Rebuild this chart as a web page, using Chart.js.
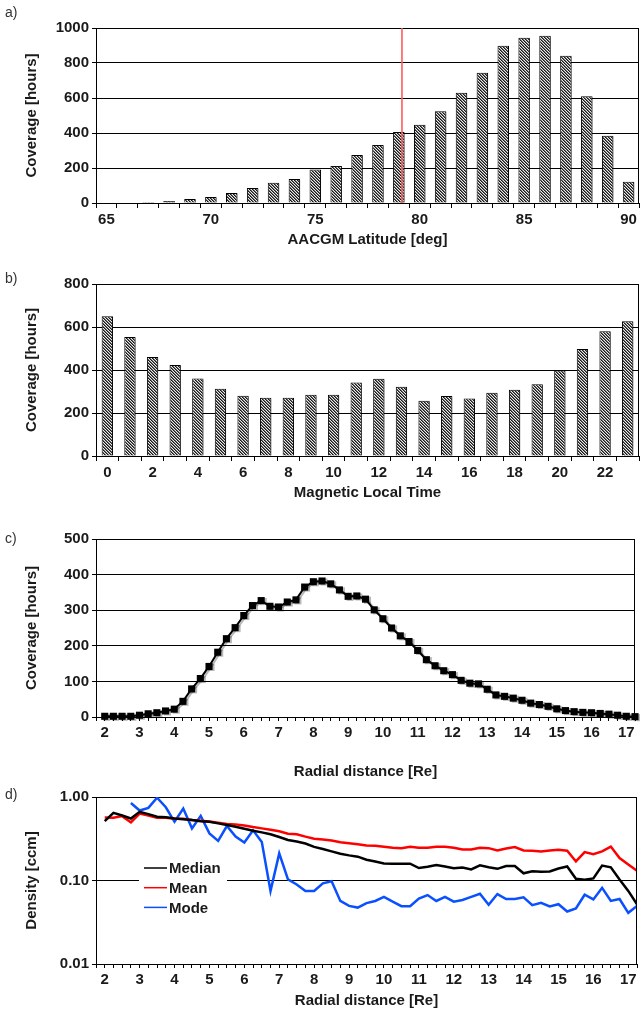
<!DOCTYPE html>
<html>
<head>
<meta charset="utf-8">
<script src="https://cdn.jsdelivr.net/npm/chart.js@4.4.0/dist/chart.umd.min.js"></script>
<style>
  html, body { margin: 0; padding: 0; background: #fff; }
  #wrap { position: relative; width: 640px; height: 1013px; overflow: hidden; background: #fff; }
  canvas { position: absolute; left: 0; }
  .plab { position: absolute; left: 5px; font: 14px "Liberation Sans", Arial, sans-serif; color: #333; line-height: 16px; z-index: 2; }
</style>
</head>
<body>
<div id="wrap">
  <canvas id="ca" width="640" height="252" style="top:0px"></canvas>
  <canvas id="cb" width="640" height="245" style="top:260px"></canvas>
  <canvas id="cc" width="640" height="268" style="top:515px"></canvas>
  <canvas id="cd" width="640" height="228" style="top:785px"></canvas>
  <div class="plab" style="top:4px">a)</div>
  <div class="plab" style="top:270px">b)</div>
  <div class="plab" style="top:530px">c)</div>
  <div class="plab" style="top:786px">d)</div>
</div>
<script>
// ---------------- DATA ----------------
const latitudes = [65,66,67,68,69,70,71,72,73,74,75,76,77,78,79,80,81,82,83,84,85,86,87,88,89,90];
const latitudeCoverage = [0,3,6,11,23,34,57,86,116,137,191,212,274,332,406,447,525,630,744,899,945,956,842,610,384,122];
const latitudeCutoff = 79.15;

const mltHours = [0,1,2,3,4,5,6,7,8,9,10,11,12,13,14,15,16,17,18,19,20,21,22,23];
const mltCoverage = [650,553,460,423,361,313,280,271,271,285,285,342,359,322,257,279,268,294,308,334,398,498,580,627];

const radialDistance = [2,2.25,2.5,2.75,3,3.25,3.5,3.75,4,4.25,4.5,4.75,
  5,5.25,5.5,5.75,6,6.25,6.5,6.75,7,7.25,7.5,7.75,
  8,8.25,8.5,8.75,9,9.25,9.5,9.75,10,10.25,10.5,10.75,
  11,11.25,11.5,11.75,12,12.25,12.5,12.75,13,13.25,13.5,13.75,
  14,14.25,14.5,14.75,15,15.25,15.5,15.75,16,16.25,16.5,16.75,
  17,17.25];
const radialCoverage = [2,2,2,2,5,9,12,17,22,44,79,108,
  142,182,220,251,285,313,327,311,309,323,329,365,
  380,382,374,357,339,340,331,301,276,250,228,212,
  187,161,144,130,119,103,95,93,78,62,58,53,
  47,39,35,30,23,18,15,13,12,10,8,5,
  2,1];
const densityMedian = [0.514,0.646,0.601,0.553,0.664,0.623,0.579,0.573,0.553,0.543,0.529,0.514,
  0.505,0.483,0.462,0.441,0.417,0.395,0.377,0.358,0.332,0.306,0.293,0.277,
  0.253,0.238,0.223,0.209,0.200,0.193,0.177,0.169,0.160,0.159,0.159,0.159,
  0.141,0.146,0.153,0.147,0.140,0.143,0.136,0.152,0.144,0.138,0.149,0.149,
  0.122,0.129,0.127,0.128,0.139,0.147,0.105,0.102,0.106,0.151,0.144,0.103,
  0.075,0.052];
const densityMean = [0.569,0.563,0.590,0.496,0.634,0.601,0.563,0.563,0.548,0.548,0.529,0.519,
  0.510,0.492,0.474,0.470,0.457,0.437,0.421,0.406,0.388,0.364,0.357,0.335,
  0.317,0.309,0.301,0.287,0.280,0.272,0.263,0.260,0.253,0.246,0.244,0.253,
  0.246,0.246,0.253,0.253,0.246,0.235,0.235,0.246,0.244,0.229,0.242,0.251,
  0.229,0.227,0.223,0.229,0.233,0.227,0.169,0.219,0.207,0.223,0.255,0.186,
  0.155,0.131];
const densityMode = [null,null,null,0.849,0.689,0.741,0.980,0.754,0.505,0.727,0.421,0.595,
  0.367,0.298,0.449,0.335,0.285,0.399,0.290,0.0748,0.211,0.103,0.0897,0.0748,
  0.0748,0.0925,0.098,0.0569,0.0496,0.0474,0.0536,0.0569,0.0636,0.0558,0.0493,0.0493,
  0.0606,0.0669,0.0569,0.0636,0.0558,0.0584,0.0636,0.0694,0.0511,0.0688,0.0600,0.0600,
  0.0630,0.0507,0.0540,0.0488,0.0520,0.0425,0.0462,0.0675,0.0594,0.0817,0.0569,0.0600,
  0.0410,0.0496];
const coverageTicks = { a: [0, 1000, 200], b: [0, 800, 200], c: [0, 500, 100] };
const densityTicks = [0.01, 0.1, 1];
const radialRange = [1.75, 17.25];

// ---------------- STYLE ----------------
const FONT = '"Liberation Sans", Arial, sans-serif';
const TXT = '#1a1a1a';
Chart.defaults.font.family = FONT;
Chart.defaults.color = TXT;
Chart.defaults.animation = false;

function hatch() {
  const c = document.createElement('canvas');
  c.width = 6; c.height = 6;
  const g = c.getContext('2d');
  const img = g.createImageData(6, 6);
  const shades = [25, 110, 235];
  for (let y = 0; y < 6; y++) for (let x = 0; x < 6; x++) {
    const i = (y * 6 + x) * 4;
    const v = shades[((x - y) % 3 + 3) % 3];
    img.data[i] = v; img.data[i+1] = v; img.data[i+2] = v; img.data[i+3] = 255;
  }
  g.putImageData(img, 0, 0);
  return g.createPattern(c, 'repeat');
}
const HATCH = hatch();

const frame = {
  id: 'frame',
  afterDraw(chart) {
    const {ctx, chartArea: a} = chart;
    ctx.save();
    ctx.strokeStyle = '#000';
    ctx.lineWidth = 1;
    const x = Math.round(a.right) - 0.5;
    ctx.beginPath();
    ctx.moveTo(x, a.top);
    ctx.lineTo(x, a.bottom);
    ctx.stroke();
    ctx.restore();
  }
};

const shadow = {
  id: 'shadow',
  beforeDatasetDraw(chart) {
    const ctx = chart.ctx;
    ctx.save();
    ctx.shadowColor = 'rgba(0,0,0,0.28)';
    ctx.shadowOffsetX = 2;
    ctx.shadowOffsetY = 1;
    ctx.shadowBlur = 0;
  },
  afterDatasetDraw(chart) {
    chart.ctx.restore();
  }
};

const cutoffLine = {
  id: 'cutoffLine',
  afterDatasetsDraw(chart) {
    const {ctx, chartArea: a} = chart;
    const xs = chart.scales.x;
    const px = xs.getPixelForValue(latitudeCutoff - latitudes[0]);
    ctx.save();
    ctx.strokeStyle = '#ff5c5c';
    ctx.lineWidth = 1.6;
    ctx.beginPath();
    ctx.moveTo(px, a.top);
    ctx.lineTo(px, a.bottom);
    ctx.stroke();
    ctx.restore();
  }
};

const innerLegend = {
  id: 'innerLegend',
  beforeDatasetsDraw(chart) {
    const {ctx, chartArea: a} = chart;
    ctx.save();
    ctx.fillStyle = '#fff';
    ctx.fillRect(a.left + 43, a.top + 62, 88, 56);
    ctx.font = 'bold 15px ' + FONT;
    ctx.textBaseline = 'middle';
    ctx.textAlign = 'left';
    chart.data.datasets.forEach((ds, i) => {
      const y = a.top + 71 + i * 19.7;
      ctx.strokeStyle = ds.borderColor;
      ctx.lineWidth = 1.5;
      ctx.beginPath();
      ctx.moveTo(a.left + 48, y);
      ctx.lineTo(a.left + 71, y);
      ctx.stroke();
      ctx.fillStyle = TXT;
      ctx.fillText(ds.label, a.left + 73, y + 1);
    });
    ctx.restore();
  }
};

const tickFont = { size: 15, weight: 'bold' };
const titleFont = { size: 15, weight: 'bold' };

function yAxis(range, title) {
  return {
    type: 'linear',
    min: range[0], max: range[1],
    afterFit: s => { s.width = 96; },
    ticks: { stepSize: range[2], font: tickFont, color: TXT, padding: 3, callback: v => String(v) },
    grid: { color: '#000', lineWidth: 1, tickLength: 4, drawTicks: true },
    border: { color: '#000', width: 1 },
    title: { display: true, text: title, font: titleFont, color: TXT, padding: { top: 23, bottom: 0 } }
  };
}

function xCategory(title, every, height) {
  return {
    type: 'category',
    offset: true,
    afterFit: s => { s.height = height; },
    ticks: {
      autoSkip: false, maxRotation: 0, font: tickFont, color: TXT, padding: 3,
      callback: function (v) { const l = this.getLabelForValue(v); return (Number(l) % every === 0) ? String(l) : ''; }
    },
    grid: { offset: true, drawOnChartArea: false, drawTicks: true, tickLength: 5, color: '#000' },
    border: { color: '#000', width: 1 },
    title: { display: true, text: title, font: titleFont, color: TXT, padding: { top: 0, bottom: 3 } }
  };
}

function xRadial(height, pb) {
  return {
    type: 'linear',
    min: radialRange[0], max: radialRange[1],
    afterFit: s => { s.height = height; },
    afterBuildTicks: s => { s.ticks = [{ value: radialRange[0] }].concat(radialDistance.map(v => ({ value: v }))); },
    ticks: {
      autoSkip: false, maxRotation: 0, font: tickFont, color: TXT, padding: 3,
      callback: v => (Math.abs(v - Math.round(v)) < 1e-6 ? String(Math.round(v)) : '')
    },
    grid: { drawOnChartArea: false, drawTicks: true, tickLength: 4, color: '#000' },
    border: { color: '#000', width: 1 },
    title: { display: true, text: 'Radial distance [Re]', font: titleFont, color: TXT, padding: { top: 0, bottom: pb } }
  };
}

// ---------------- PANEL A ----------------
new Chart(document.getElementById('ca'), {
  type: 'bar',
  data: {
    labels: latitudes.map(String),
    datasets: [{
      data: latitudeCoverage,
      backgroundColor: HATCH, borderColor: '#000', borderWidth: 1,
      barPercentage: 0.55, categoryPercentage: 1
    }]
  },
  options: {
    responsive: false, maintainAspectRatio: false,
    layout: { padding: { top: 28, right: 1, left: 0, bottom: 0 } },
    plugins: { legend: { display: false }, tooltip: { enabled: false } },
    scales: {
      x: xCategory('AACGM Latitude [deg]', 5, 49),
      y: yAxis(coverageTicks.a, 'Coverage [hours]')
    }
  },
  plugins: [shadow, frame, cutoffLine]
});

// ---------------- PANEL B ----------------
new Chart(document.getElementById('cb'), {
  type: 'bar',
  data: {
    labels: mltHours.map(String),
    datasets: [{
      data: mltCoverage,
      backgroundColor: HATCH, borderColor: '#000', borderWidth: 1,
      barPercentage: 0.5, categoryPercentage: 1
    }]
  },
  options: {
    responsive: false, maintainAspectRatio: false,
    layout: { padding: { top: 24, right: 1, left: 0, bottom: 0 } },
    plugins: { legend: { display: false }, tooltip: { enabled: false } },
    scales: {
      x: xCategory('Magnetic Local Time', 2, 49),
      y: yAxis(coverageTicks.b, 'Coverage [hours]')
    }
  },
  plugins: [shadow, frame]
});

// ---------------- PANEL C ----------------
new Chart(document.getElementById('cc'), {
  type: 'line',
  data: {
    datasets: [{
      data: radialDistance.map((x, i) => ({ x: x, y: radialCoverage[i] })),
      borderColor: '#000', borderWidth: 2,
      pointStyle: 'rect', pointRadius: 5, pointBackgroundColor: '#000', pointBorderColor: '#000', pointBorderWidth: 0,
      tension: 0, clip: 6
    }]
  },
  options: {
    responsive: false, maintainAspectRatio: false,
    layout: { padding: { top: 24, right: 1, left: 0, bottom: 0 } },
    plugins: { legend: { display: false }, tooltip: { enabled: false } },
    scales: {
      x: xRadial(66, 2),
      y: yAxis(coverageTicks.c, 'Coverage [hours]')
    }
  },
  plugins: [shadow, frame]
});

// ---------------- PANEL D ----------------
new Chart(document.getElementById('cd'), {
  type: 'line',
  data: {
    datasets: [
      { label: 'Median', data: radialDistance.map((x, i) => ({ x: x, y: densityMedian[i] })), borderColor: '#000000', borderWidth: 2.5, pointRadius: 0, tension: 0 },
      { label: 'Mean', data: radialDistance.map((x, i) => ({ x: x, y: densityMean[i] })), borderColor: '#ff0000', borderWidth: 2.5, pointRadius: 0, tension: 0 },
      { label: 'Mode', data: radialDistance.map((x, i) => ({ x: x, y: densityMode[i] })), borderColor: '#0a50ff', borderWidth: 2.5, pointRadius: 0, tension: 0, spanGaps: false }
    ]
  },
  options: {
    responsive: false, maintainAspectRatio: false,
    layout: { padding: { top: 10, right: 1, left: 0, bottom: 0 } },
    plugins: { legend: { display: false }, tooltip: { enabled: false } },
    scales: {
      x: xRadial(49, 3),
      y: {
        type: 'logarithmic',
        min: densityTicks[0], max: densityTicks[densityTicks.length - 1],
        afterFit: s => { s.width = 96; },
        afterBuildTicks: s => { s.ticks = densityTicks.map(v => ({ value: v })); },
        ticks: { font: tickFont, color: TXT, padding: 3, callback: v => Number(v).toFixed(2) },
        grid: { color: '#000', lineWidth: 1, tickLength: 4 },
        border: { color: '#000', width: 1 },
        title: { display: true, text: 'Density [ccm]', font: titleFont, color: TXT, padding: { top: 23, bottom: 0 } }
      }
    }
  },
  plugins: [frame, innerLegend]
});
</script>
</body>
</html>
